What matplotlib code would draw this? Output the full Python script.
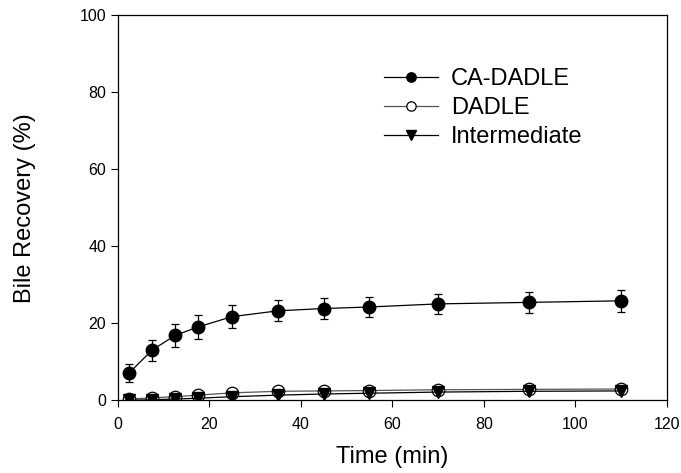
import numpy as np
import matplotlib.pyplot as plt

plt.rcParams['font.family'] = ['Liberation Sans', 'DejaVu Sans']

# sampling times (min)
time_min = [2.5, 7.5, 12.5, 17.5, 25, 35, 45, 55, 70, 90, 110]

# bile recovery (%)
ca_dadle = [7.1, 13.0, 16.8, 19.0, 21.7, 23.2, 23.8, 24.2, 25.0, 25.4, 25.8]
ca_dadle_err = [2.3, 2.7, 3.1, 3.1, 2.9, 2.7, 2.7, 2.7, 2.7, 2.7, 2.8]
dadle = [0.3, 0.6, 0.9, 1.3, 1.9, 2.3, 2.4, 2.5, 2.7, 2.8, 2.9]
intermediate = [0.0, 0.1, 0.3, 0.5, 0.9, 1.3, 1.6, 1.8, 2.1, 2.3, 2.4]

fig = plt.figure(figsize=(6.81, 4.73), dpi=100)
ax = fig.add_axes([0.173, 0.154, 0.806, 0.814])

ms = 9
# error bars drawn separately so the legend shows only line + marker
ax.errorbar(time_min, ca_dadle, yerr=ca_dadle_err, fmt='none', ecolor='black',
            capsize=3, elinewidth=0.9, capthick=0.9)
h1, = ax.plot(time_min, ca_dadle, color='black', lw=0.9, marker='o', ms=ms,
              mfc='black', mec='black', label='CA-DADLE')
h2, = ax.plot(time_min, dadle, color='#555555', lw=0.9, marker='o', ms=ms,
              mfc='white', mec='black', mew=0.9, label='DADLE')
h3, = ax.plot(time_min, intermediate, color='black', lw=0.9, marker='v', ms=ms,
              mfc='black', mec='black', label='Intermediate')

ax.set_xlim(0, 120)
ax.set_ylim(0, 100)
ax.set_xticks(np.arange(0, 121, 20))
ax.set_yticks(np.arange(0, 101, 20))
ax.tick_params(direction='out', length=5, width=0.8, labelsize=11.5)
ax.tick_params(axis='x', pad=7)
for s in ax.spines.values():
    s.set_linewidth(0.9)

ax.set_xlabel('Time (min)', fontsize=17, labelpad=10)
ax.set_ylabel('Bile Recovery (%)', fontsize=17, labelpad=31)

leg = ax.legend(handles=[h1, h2, h3], loc='upper left',
                bbox_to_anchor=(0.467, 0.887), frameon=False,
                fontsize=17, handlelength=2.3, handletextpad=0.55,
                labelspacing=0.3, markerscale=0.75, borderaxespad=0)

fig.savefig('out.png', dpi=100)
